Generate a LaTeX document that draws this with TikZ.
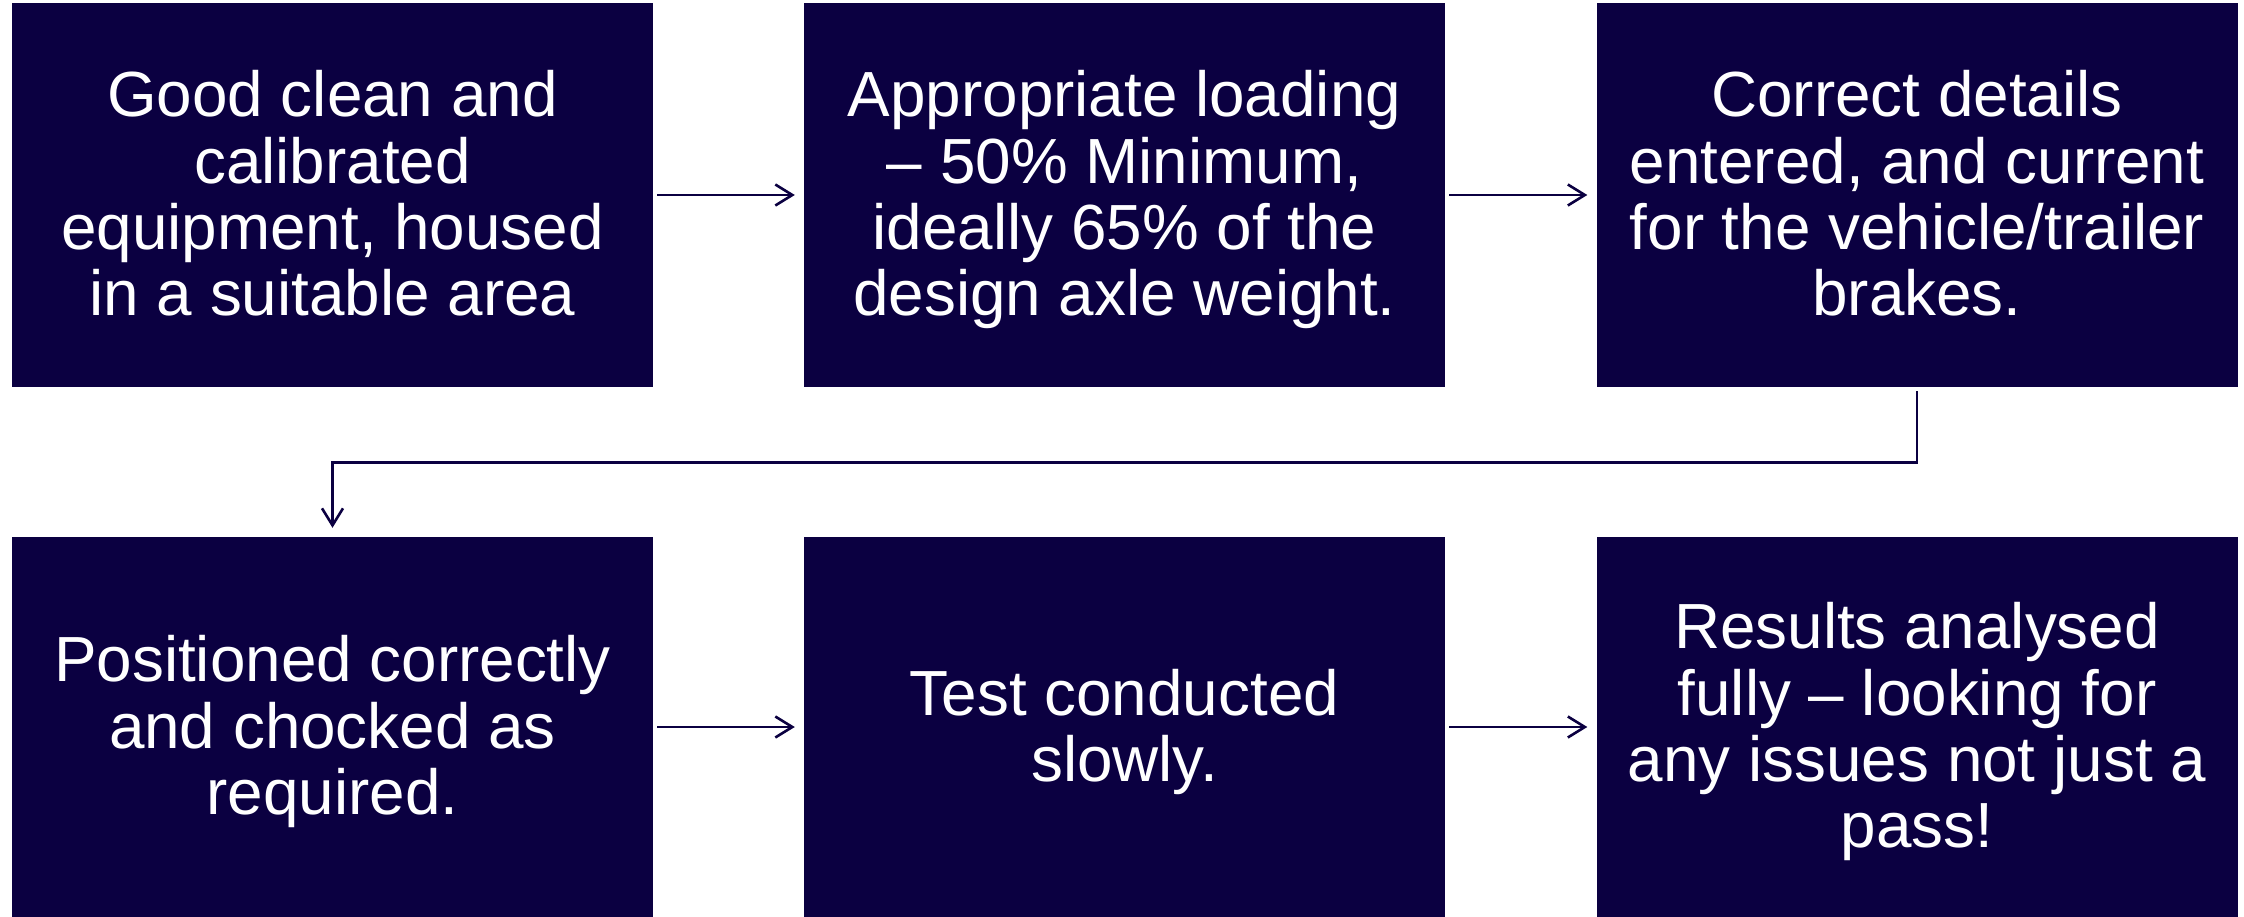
\documentclass[tikz,border=0pt]{standalone}
\usepackage{fontspec}
\setmainfont{Liberation Sans}
\usetikzlibrary{arrows.meta}
\definecolor{navy}{RGB}{11,0,65}
\tikzset{
  stepbox/.style={fill=navy, draw=none, minimum width=641pt,
    minimum height=384pt, inner sep=0pt},
  lowbox/.style={stepbox, minimum height=380pt},
  steptext/.style={text=white, align=center, inner sep=0pt, yshift=-8pt,
    font=\fontsize{63.8}{66.3}\selectfont,
    execute at begin node=\strut, execute at end node=\strut},
  conn/.style={draw=navy, line width=2.6pt,
    -{Straight Barb[length=17pt,width=21pt,line width=2.6pt]},
    shorten <=4pt, shorten >=9pt}
}
\begin{document}
\begin{tikzpicture}[x=1pt,y=-1pt]
  \useasboundingbox (0,0) rectangle (2244,917);
  % top row
  \node[stepbox] (b1) at (332.5,195) {};
  \node[stepbox] (b2) at (1124.5,195) {};
  \node[stepbox] (b3) at (1917,195) {};
  % bottom row
  \node[lowbox] (b4) at (332.5,727) {};
  \node[lowbox] (b5) at (1124.5,727) {};
  \node[lowbox] (b6) at (1917,727) {};
  % box texts
  \node[steptext] (t1) at (b1) {Good clean and\\calibrated\\equipment, housed\\in a suitable area};
  \node[steptext] (t2) at (b2) {Appropriate loading\\– 50\% Minimum,\\ideally 65\% of the\\design axle weight.};
  \node[steptext] (t3) at (b3) {Correct details\\entered, and current\\for the vehicle/trailer\\brakes.};
  \node[steptext] (t4) at (b4) {Positioned correctly\\and chocked as\\required.};
  \node[steptext] (t5) at (b5) {Test conducted\\slowly.};
  \node[steptext] (t6) at (b6) {Results analysed\\fully – looking for\\any issues not just a\\pass!};
  % connectors
  \draw[conn] (b1.east) -- (b2.west);
  \draw[conn] (b2.east) -- (b3.west);
  \draw[conn] (b3.south) -- ++(0,75) -| (b4.north);
  \draw[conn] (b4.east) -- (b5.west);
  \draw[conn] (b5.east) -- (b6.west);
\end{tikzpicture}
\end{document}
